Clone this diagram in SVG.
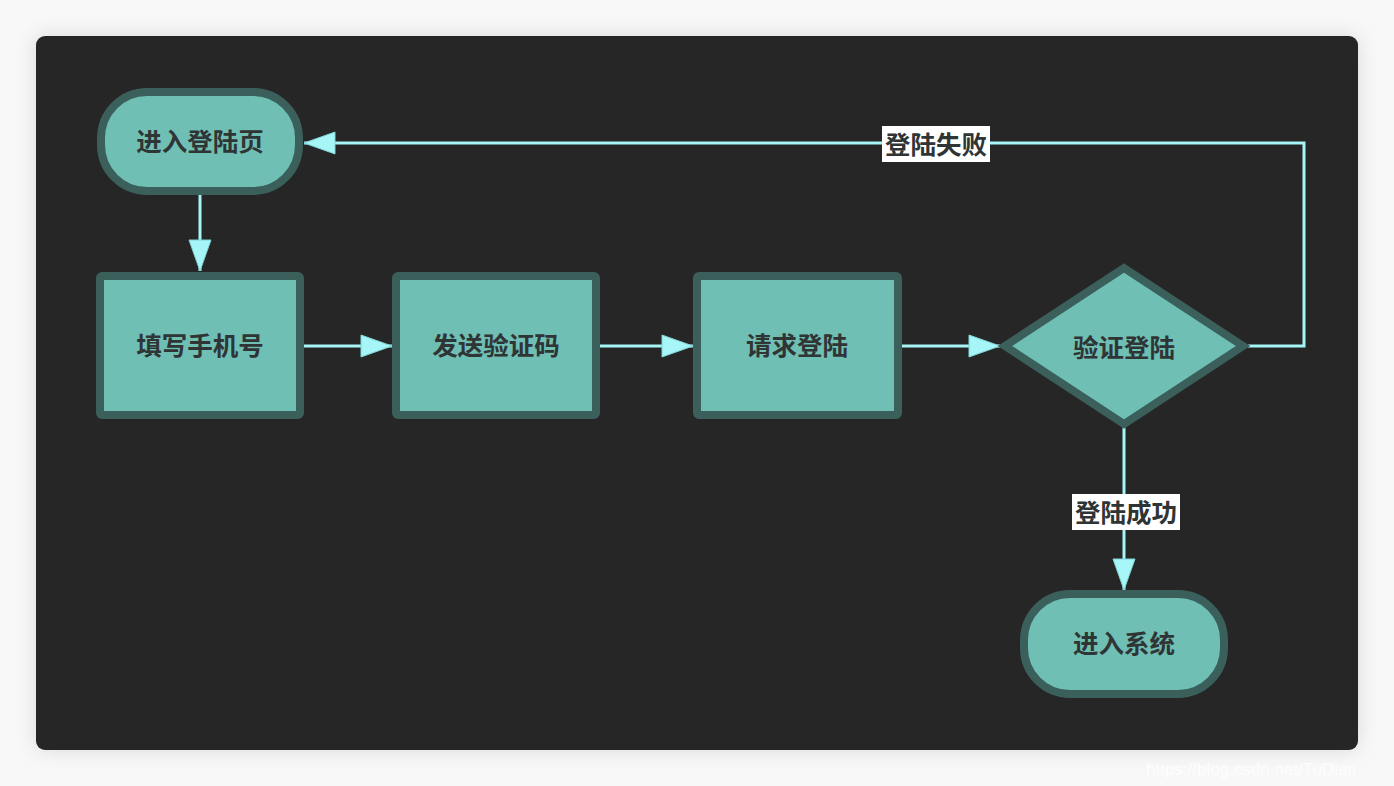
<svg xmlns="http://www.w3.org/2000/svg" width="1394" height="786" viewBox="0 0 1394 786">
<defs>
<filter id="sh" x="-5%" y="-5%" width="110%" height="110%">
<feDropShadow dx="0" dy="0" stdDeviation="10" flood-color="#000" flood-opacity="0.12"/>
</filter>
<marker id="arr" markerUnits="userSpaceOnUse" markerWidth="34" markerHeight="24" viewBox="0 0 34 24" refX="32" refY="12" orient="auto">
<path d="M1,1 L32,12 L1,23 Z" fill="#a6f5f7" stroke="#7fd4d6" stroke-width="1"/>
</marker>
<clipPath id="wm"><rect x="1140" y="752" width="215" height="30"/></clipPath>
</defs>
<style>
.node{fill:#6fbfb5;stroke:#3b5f5b;stroke-width:8}
.lbl{font-family:"Noto Sans CJK SC","Noto Sans",sans-serif;font-weight:bold;font-size:25.5px;fill:#2f3534;text-anchor:middle;dominant-baseline:central}
.edge{fill:none;stroke:#a6f5f7;stroke-width:3}
.elbl{fill:#ffffff}
</style>
<rect x="0" y="0" width="1394" height="786" fill="#f8f8f8"/>
<rect x="36" y="36" width="1322" height="714" rx="9" fill="#252628" filter="url(#sh)"/>

<g id="connectors">
<line class="edge" x1="200" y1="195" x2="200" y2="271" marker-end="url(#arr)"/>
<line class="edge" x1="303" y1="346" x2="392" y2="346" marker-end="url(#arr)"/>
<line class="edge" x1="600" y1="346" x2="693" y2="346" marker-end="url(#arr)"/>
<line class="edge" x1="902" y1="346" x2="1000" y2="346" marker-end="url(#arr)"/>
<polyline class="edge" points="1248,346 1304,346 1304,143 304,143" marker-end="url(#arr)"/>
<line class="edge" x1="1124" y1="427" x2="1124" y2="590" marker-end="url(#arr)"/>
<g id="label-fail">
<rect class="elbl" x="882" y="126" width="108" height="36"/>
<text class="lbl" x="936" y="142">登陆失败</text>
</g>
<g id="label-success">
<rect class="elbl" x="1072" y="494" width="108" height="36"/>
<text class="lbl" x="1126" y="510">登陆成功</text>
</g>
</g>

<g id="n-start">
<rect class="node" x="101" y="92" width="198" height="99" rx="46"/>
<text class="lbl" x="200" y="139">进入登陆页</text>
</g>
<g id="n-phone">
<rect class="node" x="100" y="276" width="200" height="139" rx="2"/>
<text class="lbl" x="200" y="343">填写手机号</text>
</g>
<g id="n-sms">
<rect class="node" x="396" y="276" width="200" height="139" rx="2"/>
<text class="lbl" x="496" y="343">发送验证码</text>
</g>
<g id="n-request">
<rect class="node" x="697" y="276" width="201" height="139" rx="2"/>
<text class="lbl" x="797" y="343">请求登陆</text>
</g>
<g id="n-verify">
<polygon class="node" points="1124,268 1243,346 1124,424 1005,346" stroke-linejoin="miter"/>
<text class="lbl" x="1124" y="345">验证登陆</text>
</g>
<g id="n-enter">
<rect class="node" x="1024" y="594" width="200" height="100" rx="46"/>
<text class="lbl" x="1124" y="641">进入系统</text>
</g>

<text x="1146" y="775" clip-path="url(#wm)" font-family="Liberation Sans, Arial, sans-serif" font-size="17" fill="#ffffff" fill-opacity="0.85">https://blog.csdn.net/TuDiam</text>
</svg>
